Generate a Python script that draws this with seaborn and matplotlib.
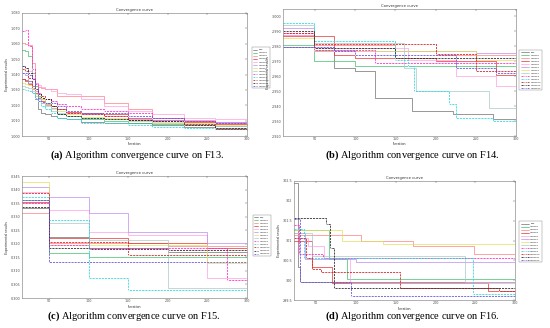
import matplotlib
matplotlib.use("Agg")
import matplotlib.pyplot as plt
import seaborn as sns
from matplotlib.ticker import FormatStrFormatter

sns.set_theme(style="white")
plt.rcParams["font.family"] = ["DejaVu Sans"]
plt.rcParams["mathtext.fontset"] = "custom"
plt.rcParams["mathtext.bf"] = "Liberation Serif:bold"
plt.rcParams["mathtext.rm"] = "Liberation Serif"

# legend names (same order in every panel)
algos = ["Rsa", "CTRsa1", "CTRsa2", "CTRsa3", "CTRsa4", "CTRsa5", "CTRsa6",
         "CTRsa7", "CTRsa8", "CTRsa9", "CTRsa10", "CTRsa11", "CTRsa12"]

# ---- F13: all curves share one iteration grid ----
f13_iter = [16, 20, 24, 28, 32, 36, 40, 45, 52, 60, 72, 90, 120, 150, 180, 220, 260, 300]
f13_vals = [
    [1.0368, 1.0363, 1.0357, 1.0325, 1.0238, 1.0174, 1.0152, 1.0141, 1.0130, 1.0120, 1.0109, 1.0092, 1.0087, 1.0083, 1.0070, 1.0061, 1.0048, 1.0044],
    [1.0562, 1.0552, 1.0519, 1.0411, 1.0325, 1.0260, 1.0238, 1.0217, 1.0195, 1.0141, 1.0130, 1.0109, 1.0098, 1.0087, 1.0076, 1.0070, 1.0066, 1.0059],
    [1.0606, 1.0601, 1.0595, 1.0476, 1.0346, 1.0320, 1.0314, 1.0308, 1.0303, 1.0260, 1.0260, 1.0260, 1.0217, 1.0174, 1.0120, 1.0104, 1.0092, 1.0083],
    [1.0368, 1.0357, 1.0335, 1.0303, 1.0282, 1.0249, 1.0228, 1.0206, 1.0195, 1.0174, 1.0157, 1.0152, 1.0141, 1.0120, 1.0104, 1.0092, 1.0076, 1.0061],
    [1.0454, 1.0444, 1.0422, 1.0379, 1.0346, 1.0329, 1.0320, 1.0308, 1.0292, 1.0282, 1.0271, 1.0238, 1.0195, 1.0163, 1.0141, 1.0120, 1.0113, 1.0109],
    [1.0411, 1.0394, 1.0346, 1.0282, 1.0238, 1.0228, 1.0217, 1.0200, 1.0184, 1.0174, 1.0152, 1.0141, 1.0130, 1.0113, 1.0104, 1.0098, 1.0092, 1.0087],
    [1.0346, 1.0341, 1.0329, 1.0303, 1.0271, 1.0256, 1.0238, 1.0206, 1.0174, 1.0163, 1.0141, 1.0126, 1.0120, 1.0104, 1.0092, 1.0083, 1.0074, 1.0066],
    [1.0325, 1.0320, 1.0314, 1.0292, 1.0260, 1.0238, 1.0217, 1.0195, 1.0163, 1.0152, 1.0130, 1.0118, 1.0109, 1.0096, 1.0087, 1.0076, 1.0066, 1.0055],
    [1.0681, 1.0692, 1.0584, 1.0433, 1.0335, 1.0282, 1.0249, 1.0238, 1.0228, 1.0206, 1.0195, 1.0174, 1.0163, 1.0152, 1.0120, 1.0098, 1.0087, 1.0076],
    [1.0303, 1.0299, 1.0292, 1.0282, 1.0249, 1.0228, 1.0195, 1.0174, 1.0152, 1.0120, 1.0109, 1.0087, 1.0083, 1.0070, 1.0061, 1.0055, 1.0050, 1.0048],
    [1.0433, 1.0422, 1.0379, 1.0314, 1.0292, 1.0271, 1.0260, 1.0238, 1.0195, 1.0174, 1.0152, 1.0141, 1.0130, 1.0104, 1.0098, 1.0076, 1.0048, 1.0040],
    [1.0454, 1.0444, 1.0411, 1.0368, 1.0303, 1.0271, 1.0249, 1.0238, 1.0195, 1.0141, 1.0130, 1.0120, 1.0113, 1.0104, 1.0098, 1.0070, 1.0055, 1.0044],
    [1.0411, 1.0407, 1.0400, 1.0368, 1.0303, 1.0228, 1.0221, 1.0217, 1.0212, 1.0195, 1.0163, 1.0152, 1.0148, 1.0130, 1.0120, 1.0098, 1.0083, 1.0070],
]

# ---- F14: step change points per algorithm ----
f14_iter = [
    [10, 49, 74, 99, 124, 170, 221, 271, 300],
    [10, 49, 99, 300],
    [10, 49, 150, 200, 300],
    [10, 74, 99, 200, 275, 300],
    [10, 49, 166, 225, 275, 300],
    [10, 49, 99, 250, 300],
    [10, 49, 250, 300],
    [10, 49, 160, 175, 266, 300],
    [10, 49, 124, 300],
    [10, 49, 150, 166, 173, 216, 225, 271, 300],
    [10, 49, 150, 200, 250, 300],
    [10, 49, 150, 300],
    [10, 74, 99, 225, 275, 300],
]
f14_vals = [
    [2.9799, 2.9766, 2.9655, 2.9633, 2.9455, 2.9366, 2.9344, 2.9311, 2.9311],
    [2.9811, 2.9700, 2.9666, 2.9666],
    [2.9877, 2.9811, 2.9766, 2.9744, 2.9744],
    [2.9866, 2.9744, 2.9722, 2.9700, 2.9611, 2.9611],
    [2.9877, 2.9788, 2.9711, 2.9600, 2.9533, 2.9533],
    [2.9922, 2.9777, 2.9766, 2.9755, 2.9755],
    [2.9855, 2.9766, 2.9711, 2.9711],
    [2.9944, 2.9822, 2.9655, 2.9500, 2.9389, 2.9389],
    [2.9888, 2.9777, 2.9688, 2.9688],
    [2.9955, 2.9833, 2.9711, 2.9666, 2.9500, 2.9411, 2.9322, 2.9300, 2.9300],
    [2.9888, 2.9815, 2.9815, 2.9748, 2.9633, 2.9633],
    [2.9900, 2.9788, 2.9722, 2.9722],
    [2.9799, 2.9766, 2.9744, 2.9655, 2.9622, 2.9622],
]

# ---- F15 ----
f15_iter = [
    [16, 50, 100, 200, 300],
    [16, 50, 100, 300],
    [16, 50, 200, 300],
    [16, 50, 150, 250, 300],
    [16, 50, 100, 150, 250, 300],
    [16, 50, 100, 150, 250, 300],
    [16, 50, 250, 300],
    [16, 50, 100, 200, 300],
    [16, 50, 100, 275, 300],
    [16, 50, 100, 150, 300],
    [16, 50, 150, 300],
    [16, 50, 100, 200, 300],
    [16, 50, 300],
]
f15_vals = [
    [0.3331, 0.3226, 0.3183, 0.3171, 0.3165],
    [0.3361, 0.3167, 0.3152, 0.3152],
    [0.3312, 0.3202, 0.3192, 0.3192],
    [0.3355, 0.3220, 0.3202, 0.3183, 0.3183],
    [0.3392, 0.3325, 0.3245, 0.3232, 0.3072, 0.3072],
    [0.3411, 0.3374, 0.3312, 0.3245, 0.3204, 0.3204],
    [0.3429, 0.3195, 0.3128, 0.3128],
    [0.3349, 0.3275, 0.3214, 0.3038, 0.3038],
    [0.3349, 0.3195, 0.3183, 0.3066, 0.3066],
    [0.3374, 0.3288, 0.3072, 0.3029, 0.3029],
    [0.3386, 0.3208, 0.3158, 0.3158],
    [0.3337, 0.3183, 0.3179, 0.3177, 0.3171],
    [0.3361, 0.3134, 0.3134],
]

# ---- F16 ----
f16_iter = [
    [22, 27, 30, 300],
    [22, 66, 89, 300],
    [22, 106, 172, 248, 300],
    [22, 45, 70, 266, 300],
    [22, 40, 60, 93, 300],
    [22, 36, 100, 300],
    [22, 83, 134, 300],
    [22, 45, 175, 237, 300],
    [22, 28, 58, 300],
    [22, 35, 247, 300],
    [22, 37, 45, 56, 155, 280, 300],
    [22, 62, 67, 72, 300],
    [22, 30, 94, 300],
]
f16_vals = [
    [302.44, 300.33, 299.96, 299.96],
    [301.26, 300.53, 300.04, 300.04],
    [301.14, 300.98, 300.85, 300.65, 300.65],
    [300.98, 300.33, 299.92, 299.72, 299.72],
    [301.06, 300.85, 300.57, 299.92, 299.92],
    [301.20, 300.53, 300.45, 300.45],
    [301.26, 300.98, 300.91, 300.91],
    [301.18, 300.61, 300.61, 299.96, 299.96],
    [301.38, 300.65, 300.57, 300.53],
    [301.30, 300.57, 299.64, 299.64],
    [301.06, 300.57, 300.29, 300.21, 299.80, 299.72, 299.72],
    [301.56, 301.42, 300.81, 299.80, 299.80],
    [301.54, 299.96, 299.60, 299.60],
]

colors = ["#6e6e6e", "#3fbf6a", "#ff7f7f", "#e8302e", "#ff9ee0", "#b98cf0",
          "#e2e25a", "#a9c9c9", "#ff2fc8", "#2fdce0", "#d92222", "#2b2b2b", "#6a55e0"]
dashed = [False] * 8 + [True] * 5

fig = plt.figure(figsize=(5.5, 3.28), dpi=100)
W, H = 550.0, 328.0


def make_axes(x0, x1, y0, y1):
    return fig.add_axes([x0 / W, 1 - y1 / H, (x1 - x0) / W, (y1 - y0) / H])


def draw(ax, iters, vals, xlim, ylim, yticks, fmt, leg_anchor, hl):
    for i in range(len(algos)):
        xs = iters if not isinstance(iters[0], list) else iters[i]
        if dashed[i]:
            sns.lineplot(x=xs, y=vals[i], ax=ax, drawstyle="steps-post", color=colors[i],
                         linestyle=(0, (2.5, 1.2)), linewidth=0.6, marker=".", markersize=1.4,
                         markeredgewidth=0, label=algos[i], legend=False)
        else:
            sns.lineplot(x=xs, y=vals[i], ax=ax, drawstyle="steps-post", color=colors[i],
                         linewidth=0.5, label=algos[i], legend=False)
    ax.set_xlim(*xlim)
    ax.set_ylim(*ylim)
    ax.set_xticks([50, 100, 150, 200, 250, 300])
    ax.set_yticks(yticks)
    ax.yaxis.set_major_formatter(FormatStrFormatter(fmt))
    ax.tick_params(direction="in", top=True, right=True, length=1.5, width=0.3,
                   labelsize=2.4, pad=1, colors="0.3")
    for s in ax.spines.values():
        s.set_linewidth(0.4)
        s.set_color("0.45")
    ax.set_title("Convergence curve", fontsize=2.7, pad=1.5, color="0.2")
    ax.set_xlabel("Iteration", fontsize=2.3, labelpad=0.8, color="0.2")
    ax.set_ylabel("Experimental results", fontsize=2.3, labelpad=1.5, color="0.2")
    leg = ax.legend(loc="upper left", bbox_to_anchor=leg_anchor, fontsize=1.75, frameon=True,
                    fancybox=False, edgecolor="0.5", framealpha=1, handlelength=hl,
                    handletextpad=0.6, labelspacing=0.55, borderpad=0.5, borderaxespad=0)
    leg.get_frame().set_linewidth(0.3)


ax_a = make_axes(22, 247, 13, 136)
draw(ax_a, f13_iter, f13_vals, (16, 300), (1.000, 1.080),
     [1.00, 1.01, 1.02, 1.03, 1.04, 1.05, 1.06, 1.07, 1.08], "%.3f", (1.02, 0.72), 1.8)

ax_b = make_axes(283, 516, 9, 136)
draw(ax_b, f14_iter, f14_vals, (10, 300), (2.920, 3.005),
     [2.92, 2.93, 2.94, 2.95, 2.96, 2.97, 2.98, 2.99, 3.00], "%.3f", (1.015, 0.68), 3.4)

ax_c = make_axes(22, 247, 176, 298)
draw(ax_c, f15_iter, f15_vals, (16, 300), (0.300, 0.345),
     [0.300, 0.305, 0.310, 0.315, 0.320, 0.325, 0.330, 0.335, 0.340, 0.345], "%.3f", (1.025, 0.68), 1.8)

ax_d = make_axes(294, 515, 181, 300)
draw(ax_d, f16_iter, f16_vals, (22, 300), (299.5, 302.5),
     [299.5, 300.0, 300.5, 301.0, 301.5, 302.0, 302.5], "%g", (1.02, 0.66), 3.4)

captions = [
    (137, 155, r"$\mathbf{(a)}$ Algorithm convergence curve on F13."),
    (412, 155, r"$\mathbf{(b)}$ Algorithm convergence curve on F14."),
    (134, 316, r"$\mathbf{(c)}$ Algorithm convergence curve on F15."),
    (412, 316, r"$\mathbf{(d)}$ Algorithm convergence curve on F16."),
]
for cx, cy, txt in captions:
    fig.text(cx / W, 1 - cy / H, txt, ha="center", va="center", fontsize=7.5,
             family="Liberation Serif", color="black")

fig.savefig("out.png", dpi=100)
